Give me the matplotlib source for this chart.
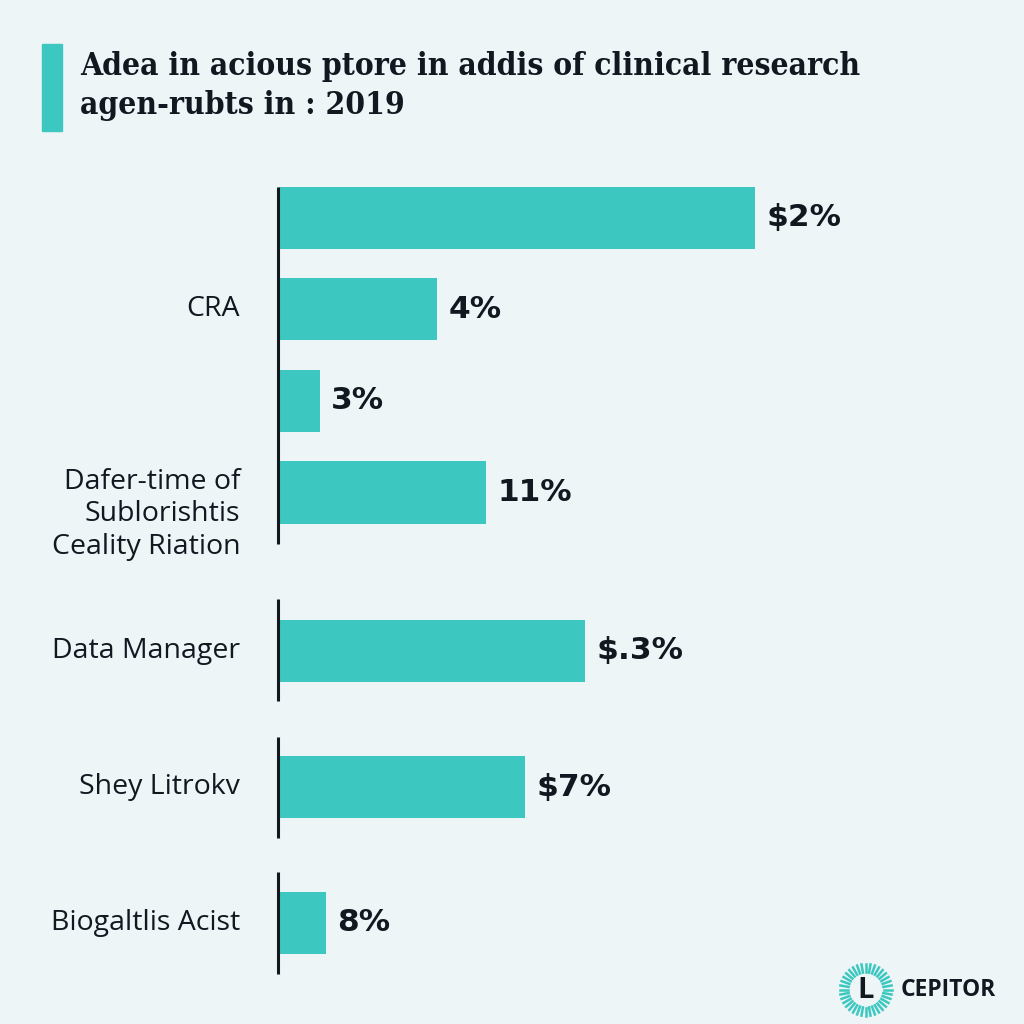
import numpy as np
import matplotlib
matplotlib.use("Agg")
import matplotlib.pyplot as plt

# bars, top to bottom
categories = ["", "CRA", "", "Dafer-time of\nSublorishtis\nCeality Riation",
              "Data Manager", "Shey Litrokv", "Biogaltlis Acist"]
values = [51.5, 17.1, 4.4, 22.4, 33.1, 26.6, 5.1]
value_labels = ["$2%", "4%", "3%", "11%", "$.3%", "$7%", "8%"]

title = "Adea in acious ptore in addis of clinical research\nagen-rubts in : 2019"
brand = "CEPITOR"

bg = "#eef5f7"
teal = "#3cc8c0"
ink = "#111820"

# irregular vertical spacing of the groups
ypos = np.array([0, 1, 2, 3, 4.73, 6.22, 7.7])
axis_segments = [(-0.34, 3.56), (4.16, 5.28), (5.67, 6.77), (7.15, 8.26)]

fig = plt.figure(figsize=(10.24, 10.24), dpi=100, facecolor=bg)
ax = fig.add_axes([279 / 1024, 17 / 1024, 740 / 1024, 824 / 1024])
ax.set_facecolor(bg)

ax.barh(ypos, values, height=0.68, color=teal, left=0)
for y, v, lab in zip(ypos, values, value_labels):
    ax.text(v + 1.2, y, lab, va="center", ha="left", fontsize=22.5,
            fontweight="bold", color=ink, family="DejaVu Sans")
for y, c in zip(ypos, categories):
    if c:
        ax.text(-4.2, y + (0.24 if "\n" in c else 0), c, va="center", ha="right",
                fontsize=20.5, color=ink, family="Open Sans", linespacing=1.2)

for y0, y1 in axis_segments:
    ax.plot([-0.12, -0.12], [y0, y1], color=ink, lw=2.2, solid_capstyle="butt",
            clip_on=False)

ax.set_xlim(0, 80)
ax.set_ylim(8.62, -0.38)
ax.axis("off")

# title with accent bar
fig.patches.append(plt.Rectangle((42 / 1024, 1 - 131 / 1024), 20 / 1024, 87 / 1024,
                                 transform=fig.transFigure, color=teal))
fig.text(80 / 1024, 1 - 86 / 1024, title, ha="left", va="center", fontsize=22.8,
         fontweight="bold", family="DejaVu Serif", fontstretch="condensed",
         color=ink, linespacing=1.35)

# logo
cx, cy, r = 866 / 1024, 34 / 1024, 26 / 1024
for a in np.linspace(0, 2 * np.pi, 36, endpoint=False):
    fig.lines.append(plt.Line2D([cx + r * 0.68 * np.cos(a), cx + r * np.cos(a)],
                                [cy + r * 0.68 * np.sin(a), cy + r * np.sin(a)],
                                transform=fig.transFigure, color=teal, lw=1.8))
fig.text(cx, cy, "L", ha="center", va="center", fontsize=21, fontweight="bold",
         color=ink, family="Open Sans")
fig.text(901 / 1024, cy, brand, ha="left", va="center", fontsize=16.5,
         fontweight="bold", color=ink, family="Open Sans")

fig.savefig("out.png", dpi=100, facecolor=bg)
